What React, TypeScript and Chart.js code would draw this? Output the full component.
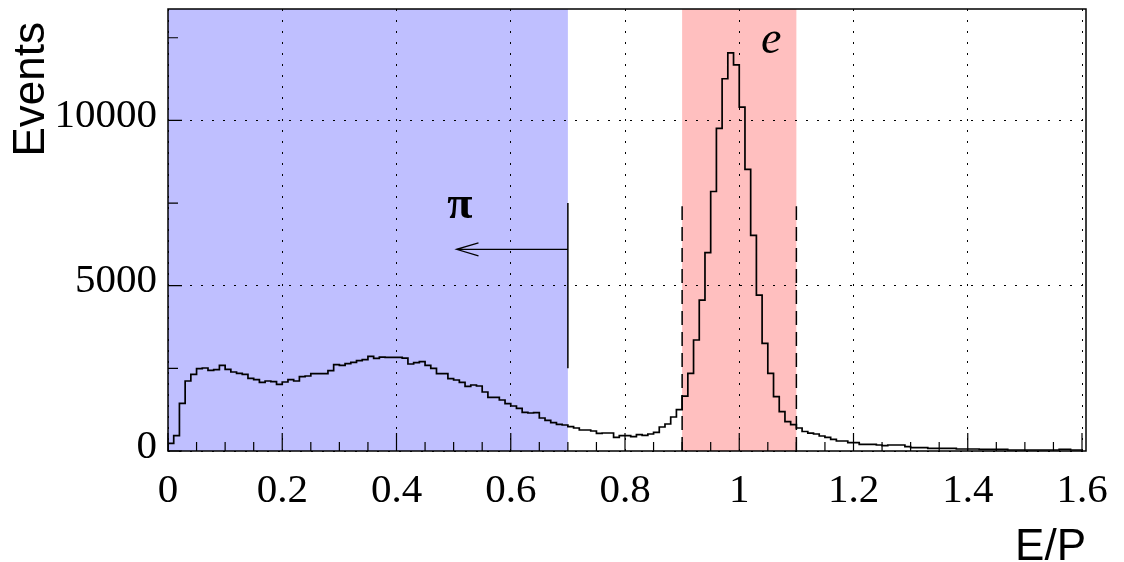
import React, { useEffect, useRef } from "react";
import { Chart, registerables } from "chart.js";

Chart.register(...registerables);

// ---- Data (E/P histogram, bin width 0.01, from 0 to 1.6) ----
const BIN_WIDTH = 0.01;

// bins 0.00 – 0.69 (pion region)
const piBins = [
  50, 233, 463, 1442, 2117, 2318, 2489, 2510, 2440, 2460,
  2591, 2470, 2389, 2349, 2318, 2198, 2157, 2077, 2117, 2097,
  2016, 2087, 2157, 2117, 2248, 2268, 2338, 2338, 2338, 2429,
  2610, 2590, 2640, 2681, 2731, 2761, 2862, 2802, 2842, 2832,
  2832, 2832, 2810, 2631, 2671, 2701, 2590, 2500, 2338, 2338,
  2187, 2147, 2076, 1956, 1996, 1966, 1784, 1623, 1623, 1542,
  1431, 1361, 1290, 1169, 1149, 1159, 998, 927, 857, 806,
];
// bins 0.70 – 0.89 (valley)
const valleyBins = [
  786, 736, 696, 635, 635, 605, 534, 544, 544, 413,
  464, 464, 433, 494, 474, 514, 565, 726, 816, 1028,
];
// bins 0.90 – 1.09 (electron peak)
const electronBins = [
  1250, 1660, 2349, 3357, 4566, 5998, 7850, 9757, 11260, 12040,
  11680, 10400, 8520, 6520, 4717, 3256, 2349, 1643, 1190, 887,
];
// bins 1.10 – 1.59 (tail)
const tailBins = [
  800, 695, 590, 540, 514, 454, 413, 353, 302, 302,
  252, 252, 202, 202, 202, 181, 161, 181, 181, 181,
  131, 101, 101, 101, 81, 81, 81, 81, 81, 60,
  60, 60, 60, 50, 50, 50, 50, 50, 30, 30,
  30, 30, 30, 30, 30, 30, 30, 50, 50, 30,
];

const xTickValues = [0, 0.2, 0.4, 0.6, 0.8, 1, 1.2, 1.4, 1.6];
const xTickLabels = ["0", "0.2", "0.4", "0.6", "0.8", "1", "1.2", "1.4", "1.6"];
const yTickValues = [0, 5000, 10000];
const yTickLabels = ["0", "5000", "10000"];

const X_MIN = 0;
const X_MAX = 1.607;
const Y_MIN = 0;
const Y_MAX = 13370;

// Regions / annotations (data coordinates)
const piRegion = [0, 0.7];
const eRegion = [0.9, 1.1];
const cutLineX = 0.7;
const cutLineY = [2500, 7500];
const arrow = { y: 6100, from: 0.7, to: 0.505 };
const eCutY = [0, 7400];
const piLabel = { text: "\u03c0", x: 0.511, y: 7046 };
const eLabel = { text: "e", x: 1.056, y: 12035 };

const BLUE = "rgb(191,191,255)";
const PINK = "rgb(255,191,191)";
const SERIF = '"Liberation Serif", "Times New Roman", serif';
const SANS = '"Liberation Sans", Arial, sans-serif';

const allBins = [...piBins, ...valleyBins, ...electronBins, ...tailBins];
const histPoints = allBins.map((v, i) => ({ x: i * BIN_WIDTH, y: v }));
histPoints.push({ x: allBins.length * BIN_WIDTH, y: allBins[allBins.length - 1] });

const overlayPlugin = {
  id: "overlay",
  beforeDraw(chart: any) {
    const { ctx, chartArea: a, scales } = chart;
    const x = scales.x;
    ctx.save();
    ctx.fillStyle = BLUE;
    const p0 = x.getPixelForValue(piRegion[0]);
    const p1 = x.getPixelForValue(piRegion[1]);
    ctx.fillRect(p0, a.top, p1 - p0, a.bottom - a.top);
    ctx.fillStyle = PINK;
    const e0 = x.getPixelForValue(eRegion[0]);
    const e1 = x.getPixelForValue(eRegion[1]);
    ctx.fillRect(e0, a.top, e1 - e0, a.bottom - a.top);
    ctx.restore();
  },
  afterDatasetsDraw(chart: any) {
    const { ctx, chartArea: a, scales } = chart;
    const x = scales.x;
    const y = scales.y;
    ctx.save();

    // dashed electron window lines
    ctx.strokeStyle = "#000";
    ctx.lineWidth = 1.5;
    ctx.setLineDash([14, 7]);
    for (const xv of eRegion) {
      const px = x.getPixelForValue(xv);
      ctx.beginPath();
      ctx.moveTo(px, y.getPixelForValue(eCutY[0]));
      ctx.lineTo(px, y.getPixelForValue(eCutY[1]));
      ctx.stroke();
    }
    ctx.setLineDash([]);

    // pion cut line
    const cx = x.getPixelForValue(cutLineX);
    ctx.beginPath();
    ctx.moveTo(cx, y.getPixelForValue(cutLineY[0]));
    ctx.lineTo(cx, y.getPixelForValue(cutLineY[1]));
    ctx.stroke();

    // arrow
    ctx.lineWidth = 1.2;
    const ay = y.getPixelForValue(arrow.y);
    const ax0 = x.getPixelForValue(arrow.from);
    const ax1 = x.getPixelForValue(arrow.to);
    ctx.beginPath();
    ctx.moveTo(ax0, ay);
    ctx.lineTo(ax1, ay);
    ctx.moveTo(ax1 + 22, ay - 6.5);
    ctx.lineTo(ax1, ay);
    ctx.lineTo(ax1 + 22, ay + 6.5);
    ctx.stroke();

    // labels
    ctx.fillStyle = "#000";
    ctx.textAlign = "center";
    ctx.textBaseline = "alphabetic";
    ctx.font = `bold 46px ${SERIF}`;
    ctx.fillText(piLabel.text, x.getPixelForValue(piLabel.x), y.getPixelForValue(piLabel.y));
    ctx.font = `italic 46px ${SERIF}`;
    ctx.fillText(eLabel.text, x.getPixelForValue(eLabel.x), y.getPixelForValue(eLabel.y));

    // tick marks (inward)
    ctx.lineWidth = 1.2;
    ctx.beginPath();
    for (let i = 0; i <= 32; i++) {
      const v = i * 0.05;
      const px = x.getPixelForValue(v);
      const len = i % 4 === 0 ? 18 : 9;
      ctx.moveTo(px, a.bottom);
      ctx.lineTo(px, a.bottom - len);
    }
    for (let i = 0; i * 2500 <= Y_MAX; i++) {
      const v = i * 2500;
      const py = y.getPixelForValue(v);
      const len = i % 2 === 0 ? 14 : 10;
      ctx.moveTo(a.left, py);
      ctx.lineTo(a.left + len, py);
    }
    ctx.stroke();

    // frame
    ctx.lineWidth = 1.5;
    ctx.strokeRect(a.left, a.top, a.right - a.left, a.bottom - a.top);

    // axis titles
    ctx.font = `44px ${SANS}`;
    ctx.textAlign = "right";
    ctx.fillText("E/P", a.right, 560);
    ctx.translate(43.5, 22);
    ctx.rotate(-Math.PI / 2);
    ctx.fillText("Events", 0, 0);
    ctx.restore();
  },
};

export default function App() {
  const canvasRef = useRef<HTMLCanvasElement | null>(null);

  useEffect(() => {
    const canvas = canvasRef.current;
    if (!canvas) return;
    const chart = new Chart(canvas, {
      type: "line",
      data: {
        datasets: [
          {
            label: "E/P",
            data: histPoints,
            stepped: "after",
            borderColor: "#000",
            borderWidth: 1.7,
            pointRadius: 0,
            fill: false,
          },
        ],
      },
      options: {
        animation: false,
        responsive: false,
        maintainAspectRatio: false,
        layout: { padding: { top: 9, right: 38, left: 0, bottom: 0 } },
        plugins: { legend: { display: false }, tooltip: { enabled: false } },
        scales: {
          x: {
            type: "linear",
            min: X_MIN,
            max: X_MAX,
            afterFit: (s: any) => {
              s.height = 111;
              s.paddingLeft = 0;
              s.paddingRight = 0;
              s.paddingTop = 0;
              s.paddingBottom = 0;
            },
            afterBuildTicks: (s: any) => {
              s.ticks = xTickValues.map((v) => ({ value: v }));
            },
            ticks: {
              autoSkip: false,
              maxRotation: 0,
              padding: 16,
              color: "#000",
              font: { family: SERIF, size: 41 },
              callback: (_v: any, i: number) => xTickLabels[i],
            },
            grid: { color: "#000", lineWidth: 1, drawTicks: false },
            border: { display: false, dash: [2, 9] },
          },
          y: {
            type: "linear",
            min: Y_MIN,
            max: Y_MAX,
            afterFit: (s: any) => {
              s.width = 168;
              s.paddingLeft = 0;
              s.paddingRight = 0;
              s.paddingTop = 0;
              s.paddingBottom = 0;
            },
            afterBuildTicks: (s: any) => {
              s.ticks = yTickValues.map((v) => ({ value: v }));
            },
            ticks: {
              autoSkip: false,
              padding: 11,
              labelOffset: -4,
              color: "#000",
              font: { family: SERIF, size: 41 },
              callback: (_v: any, i: number) => yTickLabels[i],
            },
            grid: { color: "#000", lineWidth: 1, drawTicks: false },
            border: { display: false, dash: [2, 9] },
          },
        },
      },
      plugins: [overlayPlugin],
    });
    return () => chart.destroy();
  }, []);

  return (
    <div style={{ position: "absolute", left: 0, top: 0, width: 1124, height: 562, background: "#fff" }}>
      <canvas ref={canvasRef} width={1124} height={562} style={{ display: "block" }} />
    </div>
  );
}
